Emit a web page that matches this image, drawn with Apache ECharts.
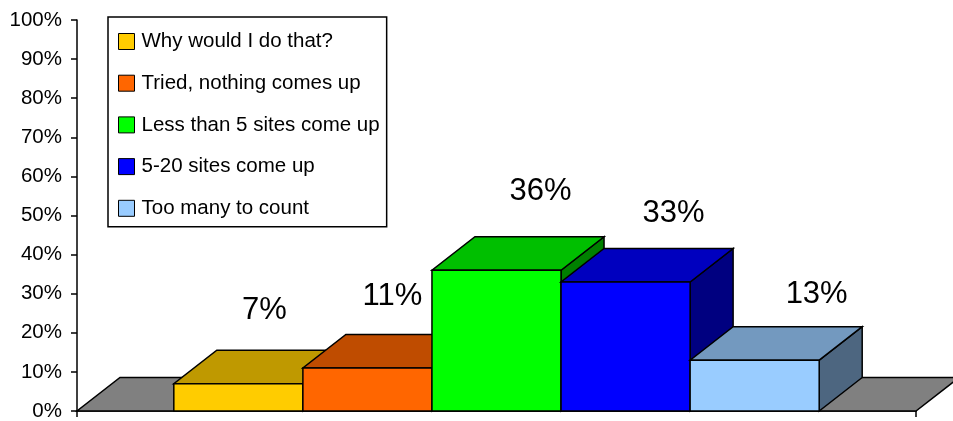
<!DOCTYPE html>
<html>
<head>
<meta charset="utf-8">
<script src="https://cdn.jsdelivr.net/npm/echarts@6/dist/echarts.min.js"></script>
<style>
  html, body { margin: 0; padding: 0; background: #ffffff; }
  #chart { width: 953px; height: 421px; }
</style>
</head>
<body>
<div id="chart"></div>
<script>
// Survey answers and their shares (percent)
const categories = [
  'Why would I do that?',
  'Tried, nothing comes up',
  'Less than 5 sites come up',
  '5-20 sites come up',
  'Too many to count'
];
const values = [7, 11, 36, 33, 13];

// Value axis range and step (percent)
const yMin = 0, yMax = 100, yStep = 10;

// Face colours of each column: front, top, right side
const frontColors = ['#FFCC00', '#FF6600', '#00FF00', '#0000FF', '#99CCFF'];
const topColors   = ['#BF9900', '#BF4C00', '#00BF00', '#0000BF', '#7399BF'];
const sideColors  = ['#806600', '#803300', '#008000', '#000080', '#4D6680'];

// Horizontal layout: columns touch each other, with a 0.75-column margin at both ends
const xSpan = 6.5;
const firstCenter = 1.25;

// Projected depth of the 3-D box (pixels)
const DEPTH_X = 43, DEPTH_Y = -33.5;

// Pixel nudges of the value labels relative to the top of each column's front face
const labelOffset = [[26, -73], [25, -72], [44, -79], [48, -69], [62, -66]];

const FONT = "'Liberation Sans', Arial, sans-serif";
const EDGE = { stroke: '#000', lineWidth: 1.5, lineJoin: 'miter' };

function poly(points, fill) {
  return { type: 'polygon', shape: { points }, style: Object.assign({ fill }, EDGE) };
}

function renderFloor(params, api) {
  const a = api.coord([api.value(0), yMin]);
  const b = api.coord([api.value(1), yMin]);
  return {
    type: 'group',
    children: [poly([
      [a[0], a[1]], [b[0], b[1]],
      [b[0] + DEPTH_X, b[1] + DEPTH_Y], [a[0] + DEPTH_X, a[1] + DEPTH_Y]
    ], '#808080')]
  };
}

function makeBarRenderer(i) {
  return function (params, api) {
    const xc = api.value(0);
    const v = api.value(1);
    const bl = api.coord([xc - 0.5, yMin]);
    const tr = api.coord([xc + 0.5, v]);
    const l = bl[0], b = bl[1], r = tr[0], t = tr[1];
    const cx = (l + r) / 2;
    return {
      type: 'group',
      children: [
        poly([[r, t], [r + DEPTH_X, t + DEPTH_Y], [r + DEPTH_X, b + DEPTH_Y], [r, b]], sideColors[i]),
        poly([[l, t], [r, t], [r + DEPTH_X, t + DEPTH_Y], [l + DEPTH_X, t + DEPTH_Y]], topColors[i]),
        poly([[l, t], [r, t], [r, b], [l, b]], frontColors[i]),
        {
          type: 'text',
          x: cx + labelOffset[i][0],
          y: t + labelOffset[i][1],
          style: {
            text: v + '%',
            fill: '#000',
            font: '31px ' + FONT,
            align: 'center',
            verticalAlign: 'middle'
          }
        }
      ]
    };
  };
}

const series = [{
  name: 'floor',
  type: 'custom',
  z: 1,
  silent: true,
  clip: false,
  renderItem: renderFloor,
  data: [[0, xSpan]]
}];

categories.forEach(function (name, i) {
  series.push({
    name: name,
    type: 'custom',
    z: 2,
    clip: false,
    itemStyle: { color: frontColors[i] },
    renderItem: makeBarRenderer(i),
    encode: { x: 0, y: 1 },
    data: [[firstCenter + i, values[i]]]
  });
});

const chart = echarts.init(document.getElementById('chart'), null, { renderer: 'canvas' });
chart.setOption({
  animation: false,
  backgroundColor: '#ffffff',
  grid: { left: 77, right: 37, top: 20, bottom: 10, containLabel: false, outerBoundsMode: 'none' },
  xAxis: {
    type: 'value',
    min: 0,
    max: xSpan,
    interval: xSpan,
    axisLine: { show: true, lineStyle: { color: '#000', width: 1.5 } },
    axisTick: { show: true, length: 6, lineStyle: { color: '#000', width: 1.5 } },
    axisLabel: { show: false },
    splitLine: { show: false }
  },
  yAxis: {
    type: 'value',
    min: yMin,
    max: yMax,
    interval: yStep,
    axisLine: { show: true, lineStyle: { color: '#000', width: 1.5 } },
    axisTick: { show: true, length: 6, lineStyle: { color: '#000', width: 1.5 } },
    axisLabel: {
      formatter: '{value}%',
      color: '#000',
      fontFamily: FONT,
      fontSize: 20.5,
      margin: 15
    },
    splitLine: { show: false }
  },
  legend: {
    data: categories,
    orient: 'vertical',
    left: 108,
    top: 17,
    padding: [14, 7, 8, 10],
    itemGap: 20.7,
    itemWidth: 16,
    itemHeight: 16,
    icon: 'rect',
    itemStyle: { borderColor: '#000', borderWidth: 1 },
    backgroundColor: '#ffffff',
    borderColor: '#000',
    borderWidth: 1.5,
    borderRadius: 0,
    selectedMode: false,
    textStyle: {
      color: '#000',
      fontFamily: FONT,
      fontSize: 20.5,
      lineHeight: 20,
      padding: [0, 0, 0, 2]
    }
  },
  series: series
});
</script>
</body>
</html>
